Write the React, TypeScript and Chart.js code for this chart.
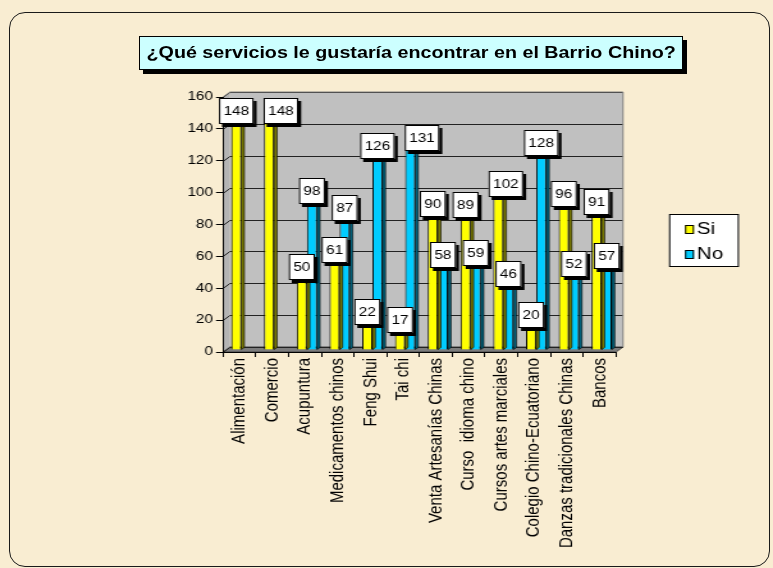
import { useEffect, useRef } from 'react';
import { Chart, registerables } from 'chart.js';

Chart.register(...registerables);

const categories = [
  'Alimentación',
  'Comercio',
  'Acupuntura',
  'Medicamentos chinos',
  'Feng Shui',
  'Tai chi',
  'Venta Artesanías Chinas',
  'Curso  idioma chino',
  'Cursos artes marciales',
  'Colegio Chino-Ecuatoriano',
  'Danzas tradicionales Chinas',
  'Bancos',
];
const siValues = [148, 148, 50, 61, 22, 17, 90, 89, 102, 20, 96, 91];
const noValues = [null, null, 98, 87, 126, 131, 58, 59, 46, 128, 52, 57];
const seriesNames = ['Si', 'No'];
const yMin = 0;
const yMax = 160;
const yStep = 20;
const chartTitle = '¿Qué servicios le gustaría encontrar en el Barrio Chino?';

const FONT = '"Liberation Sans", Arial, sans-serif';
// the reference is horizontally stretched; the canvas is drawn narrower and stretched by CSS
const CW = 604;
const CH = 568;
const S = 773 / CW;
const px = (v: number) => v / S;

const DX = px(7);
const DY = -5;
const SHIFT_X = px(2);
const SHIFT_Y = -2;
const SI_COLOR = '#ffff00';
const NO_COLOR = '#00ccff';
const SI_SIDE = '#7a7a00';
const NO_SIDE = '#00607a';
const SI_TOP = '#cccc00';
const NO_TOP = '#0099cc';
const LABEL_GAP = px(10);

function poly(ctx: CanvasRenderingContext2D, pts: number[][]) {
  ctx.beginPath();
  ctx.moveTo(pts[0][0], pts[0][1]);
  for (let i = 1; i < pts.length; i++) ctx.lineTo(pts[i][0], pts[i][1]);
  ctx.closePath();
}

const wallsPlugin = {
  id: 'walls3d',
  beforeDraw(chart: any) {
    const { ctx, chartArea } = chart;
    const { left, right, top, bottom } = chartArea;
    const y = chart.scales.y;
    ctx.save();
    ctx.fillStyle = '#c0c0c0';
    ctx.fillRect(left + DX, top + DY, right - left, bottom - top);
    ctx.fillStyle = '#b4b4b4';
    poly(ctx, [[left, top], [left + DX, top + DY], [left + DX, bottom + DY], [left, bottom]]);
    ctx.fill();
    ctx.fillStyle = '#7c7c7c';
    poly(ctx, [[left, bottom], [left + DX, bottom + DY], [right + DX, bottom + DY], [right, bottom]]);
    ctx.fill();
    ctx.strokeStyle = '#444';
    ctx.lineWidth = 1;
    ctx.stroke();
    ctx.strokeStyle = '#222';
    for (const t of y.ticks) {
      const py = Math.round(y.getPixelForValue(t.value)) + 0.5;
      ctx.beginPath();
      ctx.moveTo(left, py);
      ctx.lineTo(left + DX, py + DY);
      ctx.lineTo(right + DX, py + DY);
      ctx.stroke();
    }
    ctx.strokeStyle = '#808080';
    ctx.beginPath();
    ctx.moveTo(left, top);
    ctx.lineTo(left + DX, top + DY);
    ctx.lineTo(right + DX, top + DY);
    ctx.lineTo(right + DX, bottom + DY);
    ctx.stroke();
    ctx.restore();
  },
};

const barsPlugin = {
  id: 'bars3dLabels',
  beforeDatasetsDraw(chart: any) {
    chart.ctx.save();
    chart.ctx.translate(SHIFT_X, SHIFT_Y);
  },
  afterDatasetsDraw(chart: any) {
    const { ctx } = chart;
    chart.data.datasets.forEach((ds: any, di: number) => {
      const meta = chart.getDatasetMeta(di);
      meta.data.forEach((bar: any, i: number) => {
        const v = ds.data[i];
        if (v === null || v === undefined) return;
        const { x, y, base, width } = bar.getProps(['x', 'y', 'base', 'width'], true);
        const xr = x + width / 2;
        const xl = x - width / 2;
        const d = px(3);
        const h = -2;
        ctx.strokeStyle = '#000';
        ctx.lineWidth = 0.6;
        ctx.fillStyle = di === 0 ? SI_SIDE : NO_SIDE;
        poly(ctx, [[xr, y], [xr + d, y + h], [xr + d, base + h], [xr, base]]);
        ctx.fill();
        ctx.stroke();
        ctx.fillStyle = di === 0 ? SI_TOP : NO_TOP;
        poly(ctx, [[xl, y], [xl + d, y + h], [xr + d, y + h], [xr, y]]);
        ctx.fill();
        ctx.stroke();
      });
    });
    ctx.font = `12px ${FONT}`;
    ctx.textAlign = 'center';
    ctx.textBaseline = 'middle';
    const placed: { x: number; y: number; w: number; h: number }[] = [];
    const shadow = px(3);
    chart.data.datasets.forEach((ds: any, di: number) => {
      const meta = chart.getDatasetMeta(di);
      meta.data.forEach((bar: any, i: number) => {
        const v = ds.data[i];
        if (v === null || v === undefined) return;
        const { x, y } = bar.getProps(['x', 'y'], true);
        const text = String(v);
        const tw = ctx.measureText(text).width;
        const bw = tw + 7;
        const bh = 26;
        let bx = x - bw / 2;
        const by = Math.round(y - 3 - bh / 2);
        for (const p of placed) {
          const overlapX = bx < p.x + p.w + shadow && bx + bw + shadow > p.x;
          const overlapY = by < p.y + p.h + 3 && by + bh + 3 > p.y;
          if (overlapX && overlapY) bx = p.x + p.w + LABEL_GAP;
        }
        placed.push({ x: bx, y: by, w: bw, h: bh });
        ctx.fillStyle = '#000';
        ctx.fillRect(bx + shadow, by + 3, bw, bh);
        ctx.fillStyle = '#fff';
        ctx.fillRect(bx, by, bw, bh);
        ctx.strokeStyle = '#000';
        ctx.lineWidth = 1;
        ctx.strokeRect(bx + 0.5, by + 0.5, bw - 1, bh - 1);
        ctx.fillStyle = '#000';
        ctx.fillText(text, bx + bw / 2, by + bh / 2 + 1);
      });
    });
    ctx.restore();
  },
};

const legendPlugin = {
  id: 'boxLegend',
  afterDraw(chart: any) {
    const { ctx } = chart;
    const lx = px(669);
    const ly = 214;
    const lw = px(70);
    const lh = 53;
    ctx.save();
    ctx.fillStyle = '#fff';
    ctx.fillRect(lx, ly, lw, lh);
    ctx.strokeStyle = '#000';
    ctx.lineWidth = 1;
    ctx.strokeRect(lx + 0.5, ly + 0.5, lw - 1, lh - 1);
    ctx.font = `16px ${FONT}`;
    ctx.textBaseline = 'middle';
    ctx.textAlign = 'left';
    chart.data.datasets.forEach((ds: any, i: number) => {
      const cy = ly + 15 + i * 25;
      const sx = px(685);
      const sw = px(9);
      ctx.fillStyle = ds.backgroundColor;
      ctx.fillRect(sx, cy - 4, sw, 9);
      ctx.strokeStyle = '#000';
      ctx.strokeRect(sx + 0.5, cy - 3.5, sw - 1, 8);
      ctx.fillStyle = '#000';
      ctx.fillText(ds.label, px(697), cy + 1);
    });
    ctx.restore();
  },
};

export default function App() {
  const canvasRef = useRef<HTMLCanvasElement | null>(null);

  useEffect(() => {
    document.body.style.margin = '0';
    const canvas = canvasRef.current;
    if (!canvas) return;
    const chart = new Chart(canvas, {
      type: 'bar',
      data: {
        labels: categories,
        datasets: [
          {
            label: seriesNames[0],
            data: siValues,
            backgroundColor: SI_COLOR,
            borderColor: '#000',
            borderWidth: 1,
            categoryPercentage: 0.62,
            barPercentage: 1,
          },
          {
            label: seriesNames[1],
            data: noValues,
            backgroundColor: NO_COLOR,
            borderColor: '#000',
            borderWidth: 1,
            categoryPercentage: 0.62,
            barPercentage: 1,
          },
        ],
      },
      options: {
        responsive: false,
        animation: false,
        events: [],
        layout: { padding: { left: 0, right: CW - px(616), top: 97, bottom: 0 } },
        plugins: {
          legend: { display: false },
          title: { display: false },
          tooltip: { enabled: false },
        },
        scales: {
          x: {
            afterFit: (s: any) => {
              s.height = 216;
            },
            grid: {
              offset: true,
              drawOnChartArea: false,
              drawTicks: true,
              tickLength: 5,
              tickColor: '#000',
              color: '#000',
            },
            border: { display: true, color: '#000', width: 1 },
            ticks: {
              autoSkip: false,
              minRotation: 90,
              maxRotation: 90,
              padding: 1,
              color: '#000',
              font: { family: FONT, size: 15 },
            },
          },
          y: {
            min: yMin,
            max: yMax,
            afterFit: (s: any) => {
              s.width = px(223);
            },
            grid: {
              drawOnChartArea: false,
              drawTicks: true,
              tickLength: px(7),
              tickColor: '#000',
              color: '#000',
            },
            border: { display: true, color: '#000', width: 1 },
            ticks: {
              stepSize: yStep,
              padding: px(3),
              color: '#000',
              font: { family: FONT, size: 12 },
            },
          },
        },
      },
      plugins: [wallsPlugin, barsPlugin, legendPlugin],
    });
    return () => chart.destroy();
  }, []);

  return (
    <div
      style={{
        position: 'fixed',
        left: 0,
        top: 0,
        width: 773,
        height: 568,
        background: '#f9edd2',
        overflow: 'hidden',
      }}
    >
      <div
        style={{
          position: 'absolute',
          left: 9,
          top: 12,
          width: 761,
          height: 555,
          border: '1.5px solid #1a1a1a',
          borderRadius: 16,
          boxSizing: 'border-box',
        }}
      />
      <canvas
        ref={canvasRef}
        width={CW}
        height={CH}
        style={{
          position: 'absolute',
          left: 0,
          top: 0,
          width: CW,
          height: CH,
          transform: `scaleX(${S})`,
          transformOrigin: '0 0',
        }}
      />
      <div
        style={{
          position: 'absolute',
          left: 139,
          top: 36,
          width: 544,
          height: 34,
          boxSizing: 'border-box',
          background: '#ccffff',
          border: '1px solid #000',
          boxShadow: '4px 4px 0 #000',
          fontFamily: FONT,
          fontWeight: 'bold',
          fontSize: 17,
          lineHeight: '32px',
          textAlign: 'center',
          color: '#000',
          whiteSpace: 'nowrap',
        }}
      >
        <span style={{ display: 'inline-block', transform: 'scaleX(1.16)', transformOrigin: '50% 50%' }}>
          {chartTitle}
        </span>
      </div>
    </div>
  );
}
